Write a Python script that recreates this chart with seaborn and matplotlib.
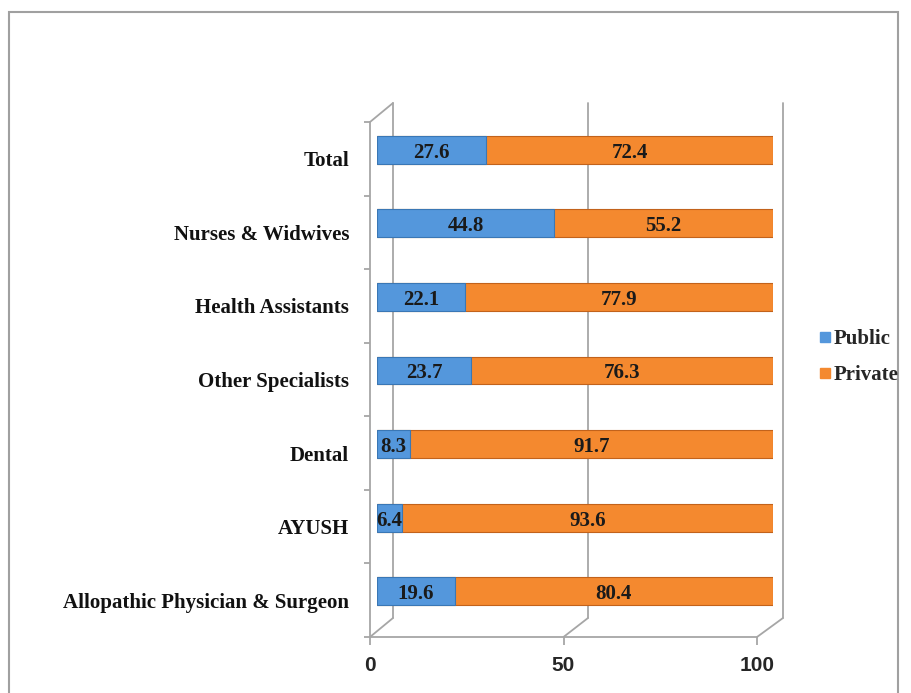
import matplotlib
matplotlib.use("Agg")
import matplotlib.pyplot as plt
from matplotlib.patches import ConnectionPatch, Rectangle
from matplotlib.lines import Line2D
import seaborn as sns
import numpy as np

categories = ["Total", "Nurses & Widwives", "Health Assistants", "Other Specialists",
              "Dental", "AYUSH", "Allopathic Physician & Surgeon"]
public = [27.6, 44.8, 22.1, 23.7, 8.3, 6.4, 19.6]
private = [72.4, 55.2, 77.9, 76.3, 91.7, 93.6, 80.4]
series_names = ["Public", "Private"]
x_ticks = [0, 50, 100]

BLUE = "#5497DC"
ORANGE = "#F4892F"
GRID = "#A6A6A6"
SERIF = ["Liberation Serif", "DejaVu Serif"]

sns.set_style("white")
W, H = 911, 693
fig = plt.figure(figsize=(W / 100, H / 100), dpi=100)

def axes_px(x0, x1, ytop, ybot):
    return fig.add_axes([x0 / W, 1 - ybot / H, (x1 - x0) / W, (ybot - ytop) / H])

n = len(categories)
ylim = (n - 0.5, -0.5)

# back plane
ax_back = axes_px(393, 783, 103, 618)
ax_back.set_xlim(0, 100)
ax_back.set_ylim(*ylim)
ax_back.patch.set_alpha(0)
for s in ax_back.spines.values():
    s.set_visible(False)
ax_back.set_xticks([]); ax_back.set_yticks([])
for xv in x_ticks:
    ax_back.axvline(xv, color=GRID, lw=1.3, clip_on=False)

# bar plane
ax = axes_px(377, 773, 113, 628)
totals = [p + q for p, q in zip(public, private)]
sns.barplot(x=totals, y=categories, orient="h", color=ORANGE, width=0.38,
            saturation=1, edgecolor="#C2621B", linewidth=0.8, ax=ax)
sns.barplot(x=public, y=categories, orient="h", color=BLUE, width=0.38,
            saturation=1, edgecolor="#3A77B5", linewidth=0.8, ax=ax)
ax.set_xlim(0, 100)
ax.set_ylim(*ylim)
ax.patch.set_alpha(0)
for s in ax.spines.values():
    s.set_visible(False)
ax.set_xticks([]); ax.set_yticks([])
ax.set_xlabel(""); ax.set_ylabel("")
for i, (p, q) in enumerate(zip(public, private)):
    ax.text(p / 2, i + 0.04, f"{p}", ha="center", va="center", fontsize=15,
            fontweight="bold", family=SERIF, color="#1A1A1A")
    ax.text(p + q / 2, i + 0.04, f"{q}", ha="center", va="center", fontsize=15,
            fontweight="bold", family=SERIF, color="#1A1A1A")

# front plane
ax_f = axes_px(370, 757, 122, 637)
ax_f.set_xlim(0, 100)
ax_f.set_ylim(*ylim)
ax_f.patch.set_alpha(0)
for k in ["top", "right"]:
    ax_f.spines[k].set_visible(False)
for k in ["left", "bottom"]:
    ax_f.spines[k].set_color(GRID)
    ax_f.spines[k].set_linewidth(1.3)
ax_f.set_xticks(x_ticks)
ax_f.set_xticklabels([str(v) for v in x_ticks], fontsize=15, fontweight="bold",
                     family=["Liberation Sans", "DejaVu Sans"], color="#262626")
ax_f.tick_params(axis="x", length=6, width=1.3, color=GRID, pad=8, direction="out", bottom=True)
ax_f.set_yticks(range(n))
ax_f.set_yticklabels(categories, fontsize=15, fontweight="bold", family=SERIF, color="#111111")
ax_f.tick_params(axis="y", which="major", length=0, pad=15)
ax_f.set_yticks(np.arange(-0.5, n, 1.0), minor=True)
ax_f.tick_params(axis="y", which="minor", length=4, width=1.3, color=GRID, left=True)
ax_f.set_zorder(3)

# connecting diagonals
for (fa, fb) in [((0, 1), (0, 1)), ((0, 0), (0, 0)), ((0.5, 0), (0.5, 0)), ((1, 0), (1, 0))]:
    cp = ConnectionPatch(xyA=fa, coordsA=ax_f.transAxes, xyB=fb, coordsB=ax_back.transAxes,
                         color=GRID, lw=1.3)
    fig.add_artist(cp)

# legend
handles = [Line2D([], [], marker="s", linestyle="", markersize=7.5, color=c) for c in [BLUE, ORANGE]]
fig.legend(handles, series_names, loc="center left", bbox_to_anchor=(800 / W, 1 - 357 / H),
           frameon=False, handletextpad=0.1, handlelength=0.6, labelspacing=0.75,
           prop={"family": SERIF, "weight": "bold", "size": 15})

# outer frame
fig.add_artist(Rectangle((9 / W, -0.05), (898 - 9) / W, 1.05 - 12 / H, transform=fig.transFigure,
                         fill=False, edgecolor="#A0A0A0", lw=1.5))

fig.savefig("out.png", dpi=100)
